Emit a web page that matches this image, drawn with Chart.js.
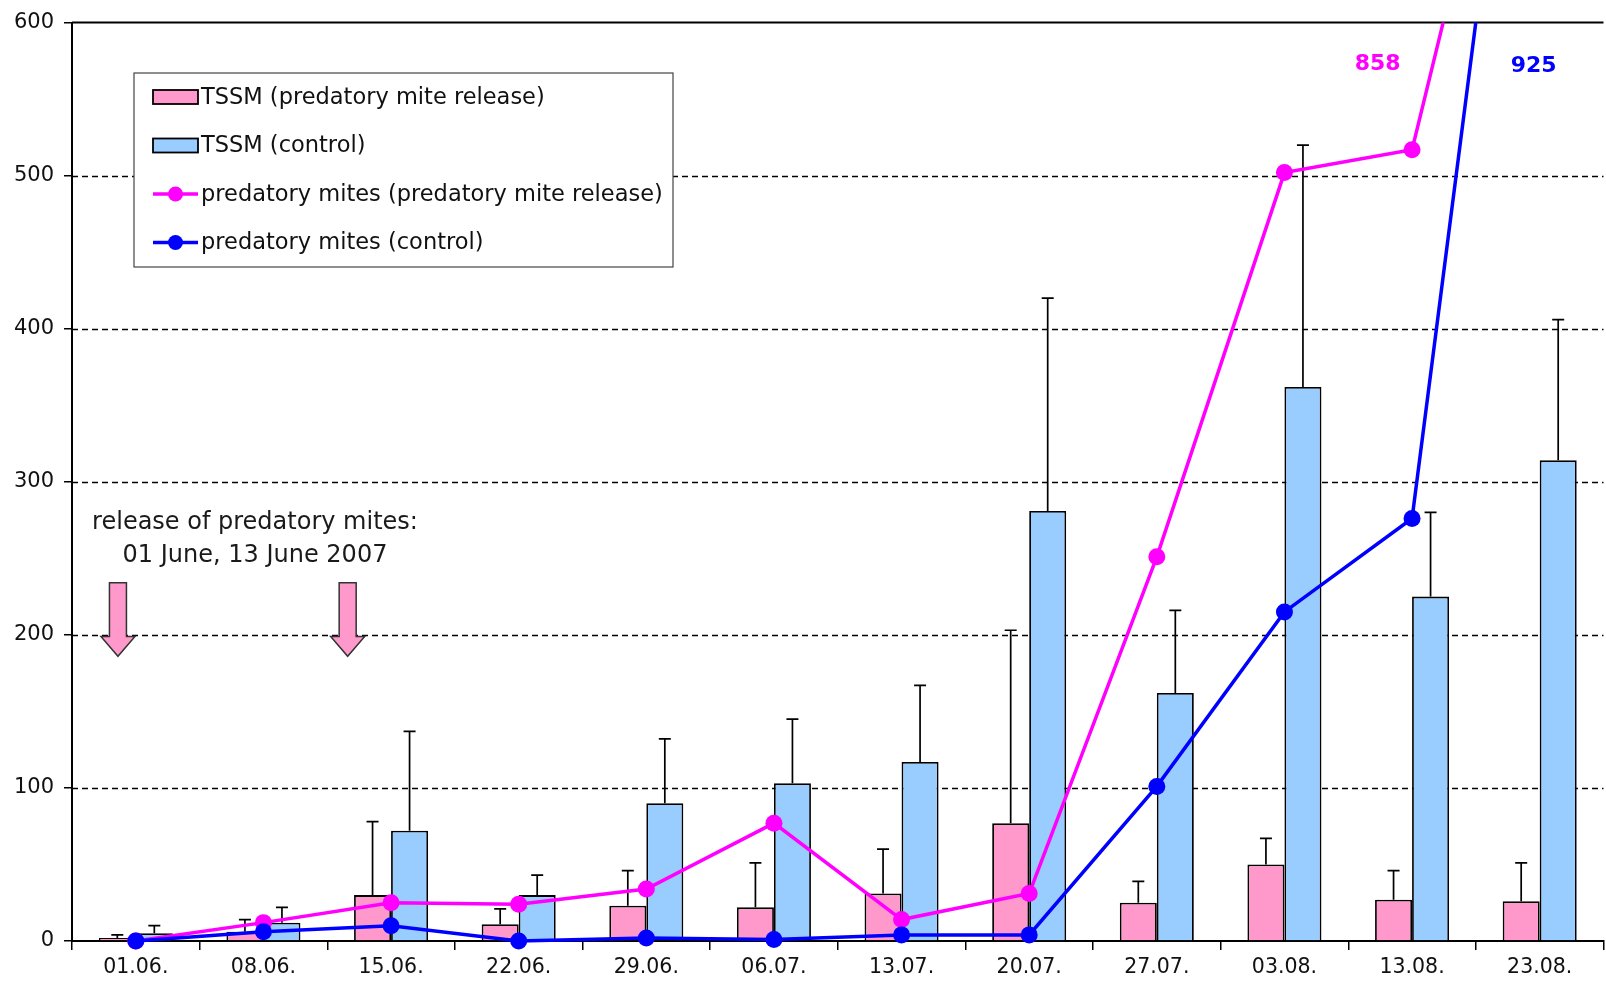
<!DOCTYPE html>
<html>
<head>
<meta charset="utf-8">
<script src="https://cdn.jsdelivr.net/npm/chart.js@4.4.0/dist/chart.umd.min.js"></script>
<style>
  html, body { margin: 0; padding: 0; background: #fff; overflow: hidden; }
  #wrap { position: absolute; left: 0; top: 0; width: 1612px; height: 983px; }
</style>
</head>
<body>
<div id="wrap"><canvas id="miteChart" width="1612" height="983"></canvas></div>
<script>
// sampling dates
const dates = ['01.06.', '08.06.', '15.06.', '22.06.', '29.06.', '06.07.', '13.07.', '20.07.', '27.07.', '03.08.', '13.08.', '23.08.'];

// TSSM (two-spotted spider mite) means and upper error bars
const tssmRelease    = [2, 6, 30, 11, 23, 22, 31, 77, 25, 50, 27, 26];
const tssmReleaseErr = [2, 8, 48, 10, 23, 29, 29, 126, 14, 17, 19, 25];
const tssmControl    = [5, 12, 72, 30, 90, 103, 117, 281, 162, 362, 225, 314];
const tssmControlErr = [5, 10, 65, 13, 42, 42, 50, 139, 54, 158, 55, 92];

// predatory mites
const predRelease = [0, 12, 25, 24, 34, 77, 14, 31, 251, 502, 517, 858];
const predControl = [0, 6, 10, 0, 2, 1, 4, 4, 101, 215, 276, 925];

const yTicks = [0, 100, 200, 300, 400, 500, 600];

// release dates as positions on the category axis (01 June, 13 June)
const releaseAt = [-0.14, 1.66];

const FONT = '"DejaVu Sans", "Liberation Sans", Arial, sans-serif';
const PINK = '#FF99CC';
const LIGHTBLUE = '#99CCFF';
const MAGENTA = '#FF00FF';
const BLUE = '#0000FF';

const errors = { 0: tssmReleaseErr, 1: tssmControlErr };

const extras = {
    id: 'extras',
    beforeDatasetsDraw(chart) {
        const { ctx, chartArea: a, scales: { y } } = chart;
        ctx.save();
        ctx.strokeStyle = '#000';
        ctx.lineWidth = 1.5;
        ctx.setLineDash([6, 4]);
        yTicks.forEach(v => {
            if (v === 0 || v === 600) return;
            const py = Math.round(y.getPixelForValue(v)) + 0.5;
            ctx.beginPath();
            ctx.moveTo(a.left, py);
            ctx.lineTo(a.right, py);
            ctx.stroke();
        });
        ctx.setLineDash([]);
        ctx.lineWidth = 2;
        const top = y.getPixelForValue(600);
        ctx.beginPath();
        ctx.moveTo(a.left, top);
        ctx.lineTo(a.right, top);
        ctx.stroke();
        ctx.restore();
    },
    afterDatasetDraw(chart, args) {
        const errs = errors[args.index];
        if (!errs) return;
        const { ctx, scales: { y } } = chart;
        const ds = chart.data.datasets[args.index];
        ctx.save();
        ctx.strokeStyle = '#000';
        ctx.lineWidth = 1.7;
        args.meta.data.forEach((bar, i) => {
            const top = y.getPixelForValue(ds.data[i] + errs[i]);
            ctx.beginPath();
            ctx.moveTo(bar.x, bar.y);
            ctx.lineTo(bar.x, top);
            ctx.moveTo(bar.x - 6, top);
            ctx.lineTo(bar.x + 6, top);
            ctx.stroke();
        });
        ctx.restore();
    },
    afterDraw(chart) {
        const { ctx, chartArea: a, scales: { x, y } } = chart;
        ctx.save();

        // values off the scale
        ctx.font = 'bold 22px ' + FONT;
        ctx.textAlign = 'center';
        ctx.textBaseline = 'middle';
        const last = dates.length - 1;
        ctx.fillStyle = MAGENTA;
        ctx.fillText(String(predRelease[last]), x.getPixelForValue(last) - 162, y.getPixelForValue(573));
        ctx.fillStyle = BLUE;
        ctx.fillText(String(predControl[last]), x.getPixelForValue(last) - 6, y.getPixelForValue(571.5));

        // release note
        ctx.fillStyle = '#1a1a1a';
        ctx.font = '24px ' + FONT;
        ctx.fillText('release of predatory mites:', a.left + 183, y.getPixelForValue(273.5));
        ctx.fillText('01 June, 13 June 2007', a.left + 183, y.getPixelForValue(252));

        // arrows
        releaseAt.forEach(pos => {
            const cx = x.getPixelForValue(pos);
            const t = y.getPixelForValue(234), h = y.getPixelForValue(199), tip = y.getPixelForValue(186);
            ctx.beginPath();
            ctx.moveTo(cx - 8.5, t);
            ctx.lineTo(cx + 8.5, t);
            ctx.lineTo(cx + 8.5, h);
            ctx.lineTo(cx + 17, h);
            ctx.lineTo(cx, tip);
            ctx.lineTo(cx - 17, h);
            ctx.lineTo(cx - 8.5, h);
            ctx.closePath();
            ctx.fillStyle = PINK;
            ctx.fill();
            ctx.strokeStyle = '#333';
            ctx.lineWidth = 1.5;
            ctx.stroke();
        });

        // legend box
        const lx = a.left + 62, ly = 73, lw = 539, lh = 194;
        ctx.fillStyle = '#fff';
        ctx.fillRect(lx, ly, lw, lh);
        ctx.strokeStyle = '#444';
        ctx.lineWidth = 1.2;
        ctx.strokeRect(lx, ly, lw, lh);
        const items = chart.data.datasets;
        ctx.font = '22.5px ' + FONT;
        ctx.textAlign = 'left';
        items.forEach((ds, i) => {
            const ry = ly + 24 + i * 48.5;
            const sx = lx + 19;
            if (ds.type === 'bar') {
                ctx.fillStyle = ds.backgroundColor;
                ctx.fillRect(sx, ry - 7, 45, 14);
                ctx.strokeStyle = '#000';
                ctx.lineWidth = 1.8;
                ctx.strokeRect(sx, ry - 7, 45, 14);
            } else {
                ctx.strokeStyle = ds.borderColor;
                ctx.lineWidth = 3.5;
                ctx.beginPath();
                ctx.moveTo(sx, ry);
                ctx.lineTo(sx + 45, ry);
                ctx.stroke();
                ctx.fillStyle = ds.borderColor;
                ctx.beginPath();
                ctx.arc(sx + 22.5, ry, 7.5, 0, Math.PI * 2);
                ctx.fill();
            }
            ctx.fillStyle = '#111';
            ctx.fillText(ds.label, sx + 48, ry + 1);
        });
        ctx.restore();
    }
};

const ctx = document.getElementById('miteChart').getContext('2d');
const miteChart = new Chart(ctx, {
    data: {
        labels: dates,
        datasets: [
            {
                type: 'bar',
                label: 'TSSM (predatory mite release)',
                data: tssmRelease,
                backgroundColor: PINK,
                borderColor: '#000',
                borderWidth: 1.8,
                categoryPercentage: 0.58,
                barPercentage: 1,
                order: 2
            },
            {
                type: 'bar',
                label: 'TSSM (control)',
                data: tssmControl,
                backgroundColor: LIGHTBLUE,
                borderColor: '#000',
                borderWidth: 1.8,
                categoryPercentage: 0.58,
                barPercentage: 1,
                order: 3
            },
            {
                type: 'line',
                label: 'predatory mites (predatory mite release)',
                data: predRelease,
                borderColor: MAGENTA,
                backgroundColor: MAGENTA,
                borderWidth: 3.5,
                pointRadius: 8.5,
                pointBorderWidth: 0,
                pointBackgroundColor: MAGENTA,
                tension: 0,
                order: 1,
                clip: { left: 12, top: 0, right: 0, bottom: 12 }
            },
            {
                type: 'line',
                label: 'predatory mites (control)',
                data: predControl,
                borderColor: BLUE,
                backgroundColor: BLUE,
                borderWidth: 3.5,
                pointRadius: 8.5,
                pointBorderWidth: 0,
                pointBackgroundColor: BLUE,
                tension: 0,
                order: 0,
                clip: { left: 12, top: 0, right: 0, bottom: 12 }
            }
        ]
    },
    options: {
        responsive: false,
        animation: false,
        layout: { padding: { top: 19, right: 0, left: 0, bottom: 0 } },
        plugins: {
            legend: { display: false },
            tooltip: { enabled: false }
        },
        scales: {
            x: {
                offset: true,
                afterFit: s => { s.height = 42; },
                grid: { display: true, drawOnChartArea: false, drawTicks: true, tickLength: 9, color: '#000', lineWidth: 1.5, offset: true },
                border: { display: true, color: '#000', width: 2 },
                ticks: { color: '#111', font: { family: FONT, size: 20.5 }, padding: 5, maxRotation: 0 }
            },
            y: {
                min: 0,
                max: 600,
                afterFit: s => { s.width = 72; },
                afterBuildTicks: s => { s.ticks = yTicks.map(v => ({ value: v })); },
                grid: { display: true, drawOnChartArea: false, drawTicks: true, tickLength: 8, color: '#000', lineWidth: 1.5 },
                border: { display: true, color: '#000', width: 2 },
                ticks: { color: '#111', font: { family: FONT, size: 21 }, padding: 10 }
            }
        }
    },
    plugins: [extras]
});
</script>
</body>
</html>
